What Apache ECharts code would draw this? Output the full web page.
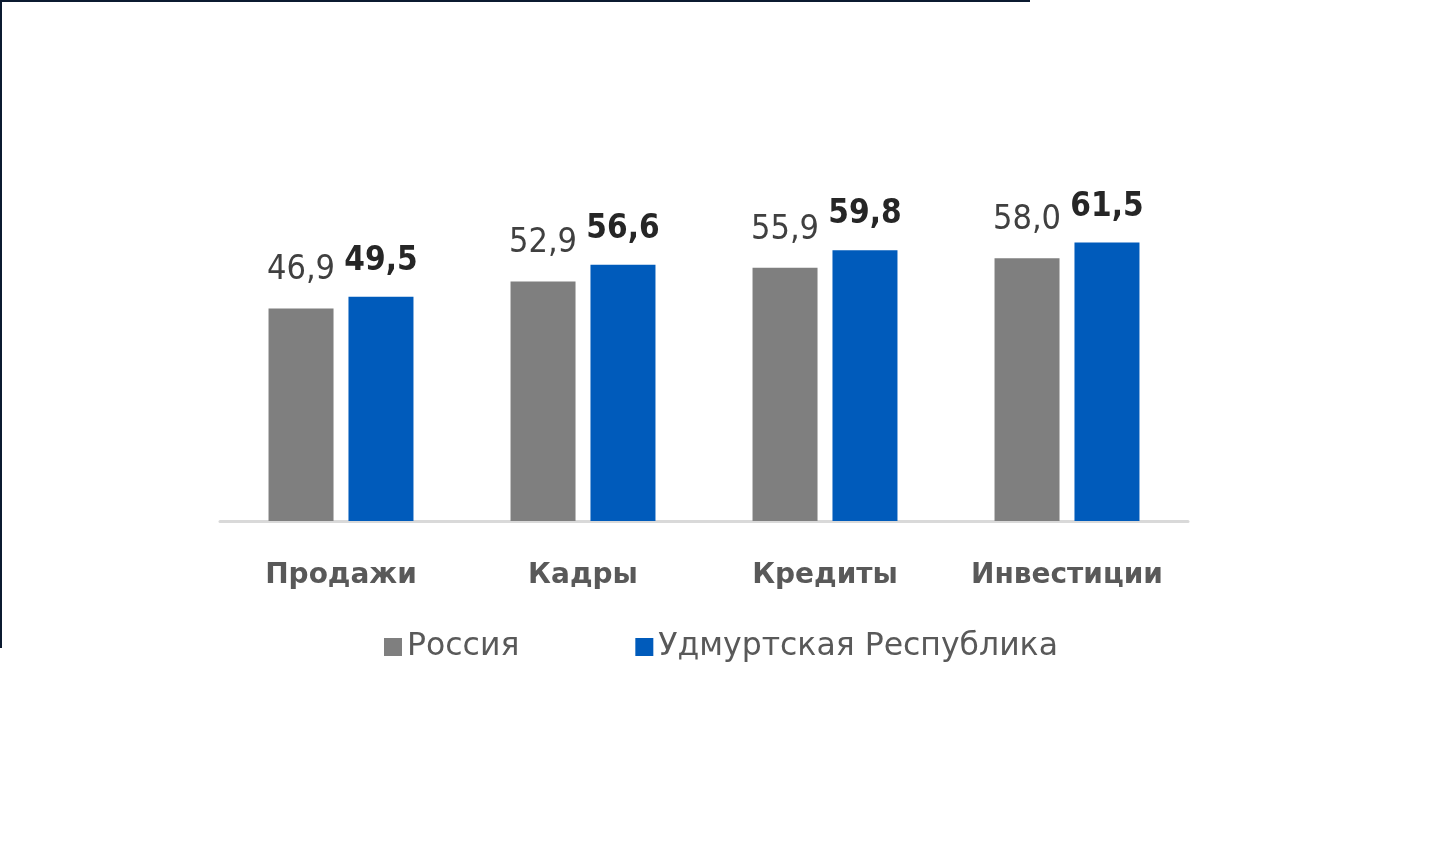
<!DOCTYPE html>
<html>
<head>
<meta charset="utf-8">
<script src="https://cdn.jsdelivr.net/npm/echarts@6/dist/echarts.min.js"></script>
<style>
  html, body { margin: 0; padding: 0; background: #fff; }
  #chart { width: 1451px; height: 864px; }
  .frameTop { position: absolute; left: 0; top: 0; width: 1030px; height: 2px; background: #0b1a30; }
  .frameLeft { position: absolute; left: 0; top: 0; width: 2px; height: 648px; background: #0b1a30; }
</style>
</head>
<body>
<div id="chart"></div>
<div class="frameTop"></div>
<div class="frameLeft"></div>
<script>
const categories = ['Продажи', 'Кадры', 'Кредиты', 'Инвестиции'];
const seriesNames = ['Россия', 'Удмуртская Республика'];
const russiaValues = [46.9, 52.9, 55.9, 58.0];
const udmurtiaValues = [49.5, 56.6, 59.8, 61.5];

const chart = echarts.init(document.getElementById('chart'));
const fmt = p => p.value.toFixed(1).replace('.', ',');
const valueFont = "'DejaVu Sans Condensed', 'Liberation Sans Narrow', sans-serif";

chart.setOption({
  animation: false,
  backgroundColor: '#ffffff',
  grid: { left: 220, right: 263, top: 204, bottom: 343 },
  legend: {
    data: seriesNames,
    left: 379,
    top: 626,
    itemWidth: 18,
    itemHeight: 18,
    itemGap: 116,
    icon: 'rect',
    textStyle: { fontFamily: 'DejaVu Sans', fontSize: 31.5, color: '#595959' }
  },
  xAxis: {
    type: 'category',
    data: categories,
    axisLine: { lineStyle: { color: '#d9d9d9', width: 3 } },
    axisTick: { show: false },
    axisLabel: {
      interval: 0,
      hideOverlap: false,
      margin: 41,
      fontFamily: 'DejaVu Sans',
      fontWeight: 'bold',
      fontSize: 28,
      color: '#595959'
    }
  },
  yAxis: {
    type: 'value',
    min: 0,
    max: 70,
    show: false,
    splitLine: { show: false }
  },
  series: [
    {
      name: seriesNames[0],
      type: 'bar',
      data: russiaValues,
      barWidth: 65,
      barGap: '23%',
      itemStyle: { color: '#7f7f7f' },
      label: {
        show: true,
        position: 'top',
        distance: 21,
        formatter: fmt,
        fontFamily: valueFont,
        fontSize: 34,
        color: '#404040'
      }
    },
    {
      name: seriesNames[1],
      type: 'bar',
      data: udmurtiaValues,
      barWidth: 65,
      itemStyle: { color: '#005bbb' },
      label: {
        show: true,
        position: 'top',
        distance: 19,
        formatter: fmt,
        fontFamily: valueFont,
        fontWeight: 'bold',
        fontSize: 33,
        color: '#262626'
      }
    }
  ]
});
</script>
</body>
</html>
